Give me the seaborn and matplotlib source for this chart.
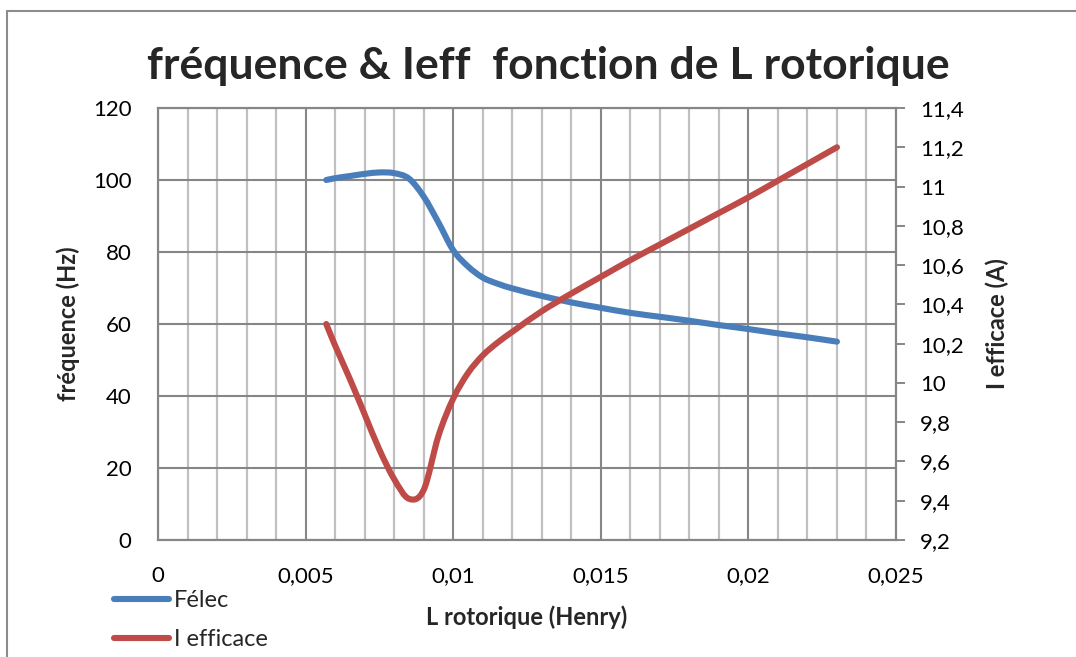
import numpy as np
import pandas as pd
import seaborn as sns
import matplotlib
matplotlib.use("Agg")
import matplotlib.pyplot as plt
from matplotlib.path import Path
from matplotlib.patches import PathPatch, Rectangle
from matplotlib.lines import Line2D
from matplotlib.ticker import MultipleLocator, FuncFormatter

# Rotor inductance (H)
l_rotor = [0.0057, 0.0060, 0.0065, 0.0070, 0.0075, 0.0080, 0.0085,
           0.0090, 0.0095, 0.0100, 0.0105, 0.0110, 0.0115, 0.0120, 0.0130,
           0.0140, 0.0150, 0.0160, 0.0170, 0.0180, 0.0190, 0.0200, 0.0210,
           0.0220, 0.0230]
# Electrical frequency (Hz)
f_elec = [100.0, 100.5, 101.1, 101.7, 102.1, 101.9, 100.4,
          95.4, 88.2, 80.5, 76.0, 72.9, 71.2, 69.9, 67.8,
          66.0, 64.5, 63.1, 62.0, 60.9, 59.7, 58.6, 57.4,
          56.3, 55.1]
# RMS current (A)
i_eff = [10.30, 10.19, 10.02, 9.84, 9.66, 9.51, 9.41,
         9.455, 9.73, 9.92, 10.05, 10.14, 10.205, 10.26, 10.365,
         10.455, 10.54, 10.625, 10.705, 10.785, 10.865, 10.945, 11.03,
         11.115, 11.20]

df = pd.DataFrame({"L": l_rotor, "Félec": f_elec, "I efficace": i_eff})

BLUE = "#4a7ebb"
RED = "#be4b48"
GRID_MAJOR = "#868686"
GRID_MINOR = "#c0c0c0"
FS = 16
FS_LABEL = 17

sns.set_theme(style="white")
plt.rcParams["font.family"] = ["Lato", "DejaVu Sans"]


def smooth_path(xs, ys):
    """Smooth cubic Bezier path through the points (Hermite tangents in x)."""
    x = np.asarray(xs, dtype=float)
    y = np.asarray(ys, dtype=float)
    n = len(x)
    m = np.empty(n)
    m[0] = (y[1] - y[0]) / (x[1] - x[0])
    m[-1] = (y[-1] - y[-2]) / (x[-1] - x[-2])
    m[1:-1] = (y[2:] - y[:-2]) / (x[2:] - x[:-2])
    verts = [(x[0], y[0])]
    codes = [Path.MOVETO]
    for i in range(n - 1):
        h = x[i + 1] - x[i]
        verts += [(x[i] + h / 3, y[i] + m[i] * h / 3),
                  (x[i + 1] - h / 3, y[i + 1] - m[i + 1] * h / 3),
                  (x[i + 1], y[i + 1])]
        codes += [Path.CURVE4] * 3
    return Path(verts, codes)


def comma(fmt):
    return FuncFormatter(lambda v, _: (fmt(v)).replace(".", ","))


fig = plt.figure(figsize=(10.76, 6.57), dpi=100)
fig.patch.set_facecolor("white")

# outer chart frame
fig.patches.append(Rectangle((7 / 1076, -0.05), 1.2, 1 - 11 / 657 + 0.05,
                             transform=fig.transFigure, fill=False,
                             edgecolor="#8c8c8c", linewidth=1.5, zorder=0))

ax = fig.add_axes([158 / 1076, 1 - 540 / 657, 738 / 1076, 432 / 657])
ax2 = ax.twinx()

ax.set_xlim(0, 0.025)
ax.set_ylim(0, 120)
ax2.set_ylim(9.2, 11.4)

ax.xaxis.set_major_locator(MultipleLocator(0.005))
ax.xaxis.set_minor_locator(MultipleLocator(0.001))
ax.yaxis.set_major_locator(MultipleLocator(20))
ax2.yaxis.set_major_locator(MultipleLocator(0.2))

ax.grid(which="minor", axis="x", color=GRID_MINOR, linewidth=1.6)
ax.grid(which="major", axis="x", color=GRID_MAJOR, linewidth=1.5)
ax.grid(which="major", axis="y", color=GRID_MAJOR, linewidth=1.5)
ax.set_axisbelow(True)

ax.xaxis.set_major_formatter(comma(lambda v: "0" if abs(v) < 1e-12 else f"{v:.3f}".rstrip("0")))
ax.yaxis.set_major_formatter(FuncFormatter(lambda v, _: f"{v:.0f}"))
ax2.yaxis.set_major_formatter(comma(lambda v: f"{v:.1f}".rstrip("0").rstrip(".")))

ax.tick_params(axis="x", which="both", length=0, pad=19, labelsize=FS, colors="black")
ax.tick_params(axis="y", which="both", length=0, pad=19, labelsize=FS, colors="black")
ax2.tick_params(axis="y", length=6.5, width=1.4, color=GRID_MAJOR, pad=11, labelsize=FS,
                labelcolor="black", direction="out")

for a in (ax, ax2):
    for s in a.spines.values():
        s.set_color(GRID_MAJOR)
        s.set_linewidth(1.5)

# curves
ax.add_patch(PathPatch(smooth_path(df["L"], df["Félec"]), fill=False,
                       edgecolor=BLUE, linewidth=4.4, capstyle="round",
                       joinstyle="round", zorder=3))
ax2.add_patch(PathPatch(smooth_path(df["L"], df["I efficace"]), fill=False,
                        edgecolor=RED, linewidth=4.4, capstyle="round",
                        joinstyle="round", zorder=3))

fig.text(548 / 1076, 1 - 66 / 657, "fréquence & Ieff  fonction de L rotorique",
         ha="center", va="center", fontsize=32, fontweight="bold")
fig.text(68 / 1076, 1 - 324 / 657, "fréquence (Hz)", rotation=90,
         ha="center", va="center", fontsize=FS_LABEL, fontweight="bold")
fig.text(997 / 1076, 1 - 324 / 657, "I efficace (A)", rotation=90,
         ha="center", va="center", fontsize=FS_LABEL, fontweight="bold")
fig.text(527 / 1076, 1 - 617 / 657, "L rotorique (Henry)",
         ha="center", va="center", fontsize=FS_LABEL, fontweight="bold")

handles = [Line2D([], [], color=BLUE, linewidth=4.4, solid_capstyle="round"),
           Line2D([], [], color=RED, linewidth=4.4, solid_capstyle="round")]
fig.legend(handles, ["Félec", "I efficace"], loc="center left",
           bbox_to_anchor=(114 / 1076, 1 - 620 / 657), frameon=False,
           fontsize=17, handlelength=2.35, handletextpad=0.2,
           labelspacing=0.75, borderpad=0, borderaxespad=0)

fig.savefig("out.png", dpi=100, facecolor="white")
